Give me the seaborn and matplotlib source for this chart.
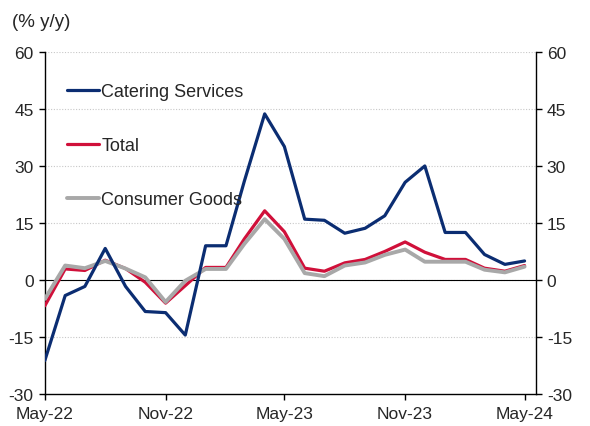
import pandas as pd
import numpy as np
import matplotlib
matplotlib.use('Agg')
import matplotlib.pyplot as plt
import matplotlib.dates as mdates
import seaborn as sns

sns.set_style("white")
plt.rcParams['font.family'] = ['Liberation Sans', 'DejaVu Sans']
plt.rcParams['axes.unicode_minus'] = False

months = pd.date_range('2022-05-01', '2024-05-01', freq='MS')
catering = [-21.2, -4.1, -1.7, 8.3, -1.7, -8.3, -8.6, -14.5, 9.0, 9.0, 26.0, 43.7, 35.1,
            16.0, 15.7, 12.3, 13.6, 16.9, 25.7, 30.0, 12.5, 12.5, 6.7, 4.1, 5.0]
total = [-6.8, 2.9, 2.5, 5.2, 3.0, -0.6, -6.1, -1.5, 3.3, 3.3, 10.8, 18.2, 12.7,
         3.1, 2.3, 4.5, 5.4, 7.5, 10.0, 7.3, 5.4, 5.4, 3.1, 2.3, 3.8]
goods = [-5.0, 3.8, 3.1, 5.0, 3.0, 0.7, -5.8, -0.2, 2.9, 2.9, 9.5, 16.0, 10.8,
         1.8, 1.0, 3.8, 4.6, 6.6, 8.0, 4.8, 4.8, 4.8, 2.7, 2.0, 3.5]

series = ['Catering Services', 'Total', 'Consumer Goods']
colors = {'Catering Services': '#0b2d72', 'Total': '#d0103a', 'Consumer Goods': '#a8a8a8'}
widths = {'Catering Services': 2.3, 'Total': 2.3, 'Consumer Goods': 2.8}
zorders = {'Catering Services': 5, 'Total': 3, 'Consumer Goods': 4}

df = pd.DataFrame({'date': list(months) * 3,
                   'value': catering + total + goods,
                   'series': [s for s in series for _ in months]})

fig = plt.figure(figsize=(5.9, 4.27), dpi=100)
ax = fig.add_axes([0.076, 0.075, 0.832, 0.801])

for s in series:
    sns.lineplot(data=df[df['series'] == s], x='date', y='value', color=colors[s],
                 lw=widths[s], ax=ax, label=s, zorder=zorders[s])

ax.axhline(0, color='black', lw=0.8, zorder=2)
ax.set_ylim(-30, 60)
ax.set_yticks(np.arange(-30, 61, 15))
for yv in np.arange(-15, 61, 15):
    ax.axhline(yv, color='#c8c8c8', lw=0.8, ls=(0, (1, 1.5)), zorder=1)

ax.set_xlim(pd.Timestamp('2022-05-01'), pd.Timestamp('2024-05-18'))
ax.set_xticks(pd.to_datetime(['2022-05-01', '2022-11-01', '2023-05-01', '2023-11-01', '2024-05-01']))
ax.xaxis.set_major_formatter(mdates.DateFormatter('%b-%y'))
ax.set_xlabel('')
ax.set_ylabel('')

ax.spines['top'].set_visible(False)
for side in ['left', 'right', 'bottom']:
    ax.spines[side].set_color('black')
    ax.spines[side].set_linewidth(1.0)
ax.tick_params(axis='both', direction='out', length=4, width=1, color='black',
               labelsize=12.5, pad=4, left=True, right=True, bottom=True,
               labelleft=True, labelright=True)
ax.tick_params(axis='x', pad=5)

fig.text(0.02, 0.948, '(% y/y)', fontsize=13.5, ha='left', va='center')

handles, labels = ax.get_legend_handles_labels()
leg = ax.legend(handles, labels, loc='upper left', bbox_to_anchor=(0.03, 0.93),
                frameon=False, fontsize=13, handlelength=1.8, handletextpad=0.12,
                labelspacing=2.05, borderaxespad=0)

fig.savefig('out.png', dpi=100)
